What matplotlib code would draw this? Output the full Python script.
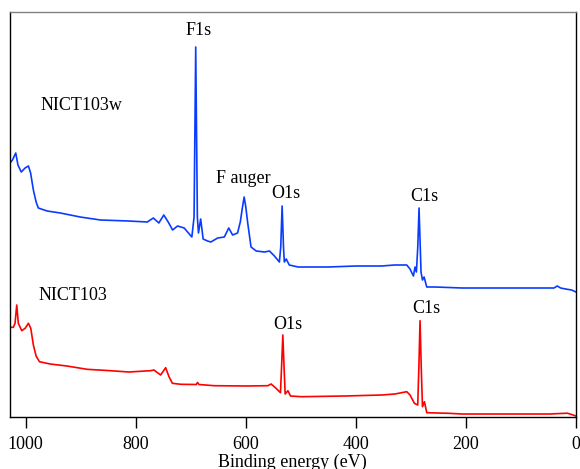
import matplotlib.pyplot as plt

plt.rcParams['font.family'] = ['Liberation Serif', 'DejaVu Serif']

# binding energy (eV) and intensity (arb. units)
# NICT103w (blue, upper trace)
energy_w = [1028.5, 1024, 1018, 1014, 1008, 1001, 995, 991, 986, 981, 977, 961, 937,
            901, 864, 813, 779, 768, 758, 749, 741, 733, 724, 712, 698, 694, 691, 688,
            686, 682, 677.5, 669.5, 663.5, 651, 639, 631, 624, 615, 610, 606, 603, 600,
            596.5, 590.5, 581, 566, 557, 548, 539, 536.5, 534, 531.5, 530, 526.5, 521,
            505, 450, 400, 353, 330, 307.6, 301.6, 295.4, 292.5, 290, 287.5, 285.2,
            283, 281.6, 279, 276, 271.2, 256, 207, 120, 40, 34, 28, 19, 8, 0]
intensity_w = [254, 257, 264, 252, 245, 249, 251, 244, 227, 215, 209, 206, 204,
               200, 197, 196, 195, 199, 194, 202, 195, 187, 191, 189, 180, 200, 370, 200,
               184, 198, 178, 176, 175, 179, 180, 189, 182, 184, 195, 210, 220, 210,
               194, 170, 166, 165, 166, 161, 155, 170, 211, 170, 155, 158, 152,
               150, 150, 151, 151, 152, 152, 148, 141, 150, 145, 170, 209,
               170, 145, 137, 140, 130, 130, 129, 129, 129, 131, 129, 128, 127, 125]

# NICT103 (red, lower trace)
energy_r = [1028.5, 1022.4, 1019.3, 1016.2, 1013.3, 1007.1, 1001, 995, 990.7, 986,
            981, 975, 955.5, 925, 888.5, 846, 812.6, 773, 767, 754.7, 745.6, 739.6,
            733.4, 718.2, 690, 687.8, 685, 657.5, 596.5, 560, 554, 545, 537, 535,
            532.7, 530.5, 528.5, 523.5, 518.8, 499, 420, 353, 329, 307.6, 301.6, 293.6,
            287.6, 285.5, 283.4, 281.2, 279, 275.4, 271.2, 231.6, 207, 120, 48, 16,
            8, 0]
intensity_r = [89.7, 89.7, 93.7, 112, 93.7, 86.3, 88.7, 93.7, 88.7, 72,
               61, 55.3, 53, 51, 47.7, 46.3, 45, 46.3, 47, 42, 49.3, 40.3,
               33.7, 32.7, 32.5, 34.5, 32.5, 31.3, 31, 31.3, 33, 28.7, 24.3, 50,
               82, 50, 23, 26.3, 21, 20.3, 21, 22, 23, 25.3, 22, 13.7,
               12, 50, 96.3, 50, 10.3, 15.3, 4.3, 3.7, 3, 3, 3, 3.8, 2.5, 1]

# peak labels: text, energy, baseline intensity
labels = [("F1s", 685, 382), ("F auger", 604, 234), ("O1s", 528, 219),
          ("C1s", 275, 216), ("O1s", 524.5, 88), ("C1s", 272, 104)]
names = [("NICT103w", 973.7, 307), ("NICT103", 977, 117)]

fig = plt.figure(figsize=(5.8, 4.69), dpi=100)
ax = fig.add_axes([9.7 / 580, 52 / 469, (576 - 9.7) / 580, 405 / 469])

ax.plot(energy_w, intensity_w, color='#0a3cff', lw=1.2)
ax.plot(energy_r, intensity_r, color='#ff0000', lw=1.2)

for txt, e, y in labels:
    ax.text(e, y, txt, ha='center', va='baseline', fontsize=13)
for txt, e, y in names:
    ax.text(e, y, txt, ha='left', va='baseline', fontsize=13)

ax.set_xlim(1029, 0)
ax.set_ylim(0, 405)
ax.set_xticks([1000, 800, 600, 400, 200, 0])
ax.set_yticks([])
ax.tick_params(axis='x', direction='out', length=8, width=1, labelsize=13, pad=6)
ax.set_xlabel("Binding energy (eV)", fontsize=13, labelpad=0.5)
ax.spines['top'].set_color('#808080')
for s in ax.spines.values():
    s.set_linewidth(1)

fig.savefig("out.png", dpi=100)
